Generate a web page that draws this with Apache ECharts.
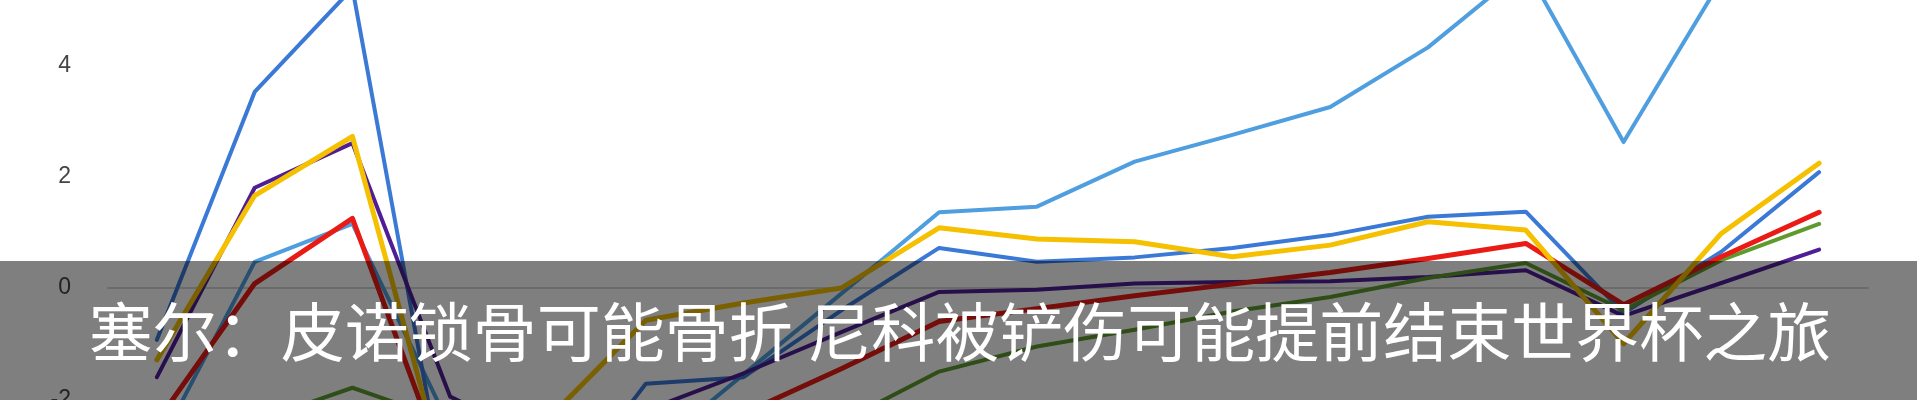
<!DOCTYPE html>
<html>
<head>
<meta charset="utf-8">
<script src="https://cdn.jsdelivr.net/npm/echarts@6/dist/echarts.min.js"></script>
<style>
html,body{margin:0;padding:0;background:#fff;}
#chart{width:1920px;height:400px;}
</style>
</head>
<body>
<div id="chart"></div>
<script>
// categories (x positions, labels hidden in the reference)
const categories = ['1','2','3','4','5','6','7','8','9','10','11','12','13','14','15','16','17','18'];
// visible value window of the (cropped) chart and its tick labels
const yMin = -2.01, yMax = 5.17;
const yTickLabels = [-2, 0, 2, 4];
// series values
const royalBlue = [-0.93, 3.52, 5.38, -4.2, -4.0, -1.72, -1.6, -0.4, 0.72, 0.47, 0.55, 0.72, 0.95, 1.28, 1.37, -0.45, 0.65, 2.08];
const lightBlue = [-2.9, 0.47, 1.15, -2.5, -3.0, -3.0, -1.55, -0.1, 1.36, 1.46, 2.27, 2.75, 3.25, 4.32, 5.75, 2.62, 5.53, 5.9];
const purple    = [-1.6, 1.80, 2.60, -1.95, -2.8, -2.2, -1.53, -0.79, -0.07, -0.03, 0.08, 0.11, 0.12, 0.2, 0.32, -0.5, 0.09, 0.69];
const green     = [-2.6, -2.4, -1.79, -2.4, -2.8, -2.8, -2.7, -2.4, -1.5, -1.05, -0.75, -0.42, -0.16, 0.18, 0.45, -0.4, 0.5, 1.15];
const red       = [-2.4, 0.08, 1.25, -3.5, -3.2, -2.8, -2.25, -1.45, -0.6, -0.37, -0.14, 0.07, 0.28, 0.53, 0.8, -0.3, 0.56, 1.36];
const yellow    = [-1.29, 1.66, 2.72, -3.7, -2.35, -0.58, -0.27, 0.0, 1.08, 0.88, 0.83, 0.56, 0.77, 1.19, 1.04, -1.0, 0.98, 2.24];
const caption = '塞尔：皮诺锁骨可能骨折 尼科被铲伤可能提前结束世界杯之旅';

const chart = echarts.init(document.getElementById('chart'), null, {renderer: 'canvas'});
function line(name, data, color, width) {
  return {
    name: name, type: 'line', data: data, symbol: 'none', smooth: false, clip: true,
    lineStyle: {color: color, width: width, join: 'round', cap: 'round'},
    itemStyle: {color: color},
    emphasis: {disabled: true}, silent: true, animation: false
  };
}
chart.setOption({
  backgroundColor: '#ffffff',
  animation: false,
  grid: {left: 108, right: 52, top: 0, bottom: 0, containLabel: false, outerBoundsMode: 'none'},
  xAxis: {
    type: 'category', data: categories, boundaryGap: true,
    axisLine: {show: true, onZero: true, lineStyle: {color: '#d4d4d4', width: 2}},
    axisTick: {show: false}, axisLabel: {show: false}, splitLine: {show: false}
  },
  yAxis: {
    type: 'value', min: yMin, max: yMax, splitNumber: 4,
    axisLine: {show: false}, axisTick: {show: false}, splitLine: {show: false},
    axisLabel: {
      color: '#444444', fontSize: 23, fontFamily: 'Liberation Sans', margin: 37,
      showMinLabel: true, showMaxLabel: true,
      formatter: function (v) {
        for (const t of yTickLabels) { if (Math.abs(v - t) < 1e-6) return String(t); }
        return '';
      }
    }
  },
  series: [
    line('lightBlue', lightBlue, '#4e9ee0', 4),
    line('royalBlue', royalBlue, '#3b79d6', 4),
    line('purple', purple, '#4f1e96', 4),
    line('green', green, '#5e9a2c', 4),
    line('red', red, '#ea1a14', 5),
    line('yellow', yellow, '#f5c000', 5)
  ],
  graphic: [
    {type: 'rect', shape: {x: 0, y: 261, width: 1917, height: 139}, style: {fill: 'rgba(0,0,0,0.5)'}, z: 100, silent: true},
    {type: 'text', x: 960, y: 332, z: 101, silent: true,
     style: {text: caption, fill: '#ffffff', font: '64px "Noto Sans CJK SC"', align: 'center', verticalAlign: 'middle'}}
  ]
});
</script>
</body>
</html>
